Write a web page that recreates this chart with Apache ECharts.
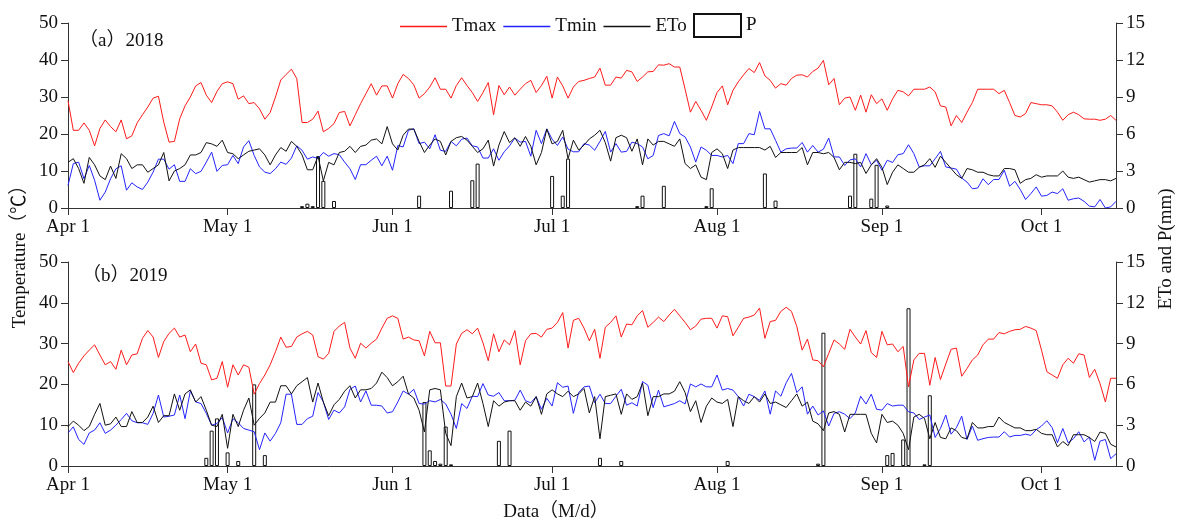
<!DOCTYPE html>
<html><head><meta charset="utf-8">
<script src="https://cdn.jsdelivr.net/npm/echarts@6/dist/echarts.min.js"></script>
<style>html,body{margin:0;padding:0;background:#fff}#c{width:1177px;height:522px}</style>
</head><body><div id="c"></div>
<script>
// ---- x categories (daily, Apr 1 .. Oct 15) ----
const monthNames = ['Apr','May','Jun','Jul','Aug','Sep','Oct'];
const monthDays = [30,31,30,31,31,30,15];
const dates = [];
monthNames.forEach((m,i)=>{ for(let d=1; d<=monthDays[i]; d++) dates.push(m+' '+d); });

// ---- 2018 ----
const tmax2018 = [29,21,21,23,21,16.8,21.5,23.8,22,20.6,23.8,18.7,19.5,23,25.2,27.3,29.7,30.2,23.2,17.8,18,24.1,27.6,30,33,33.9,30.5,28.5,31.5,33.6,34.1,33.6,29.4,30.3,28.2,28.5,26.8,24,25.8,30,34.6,36.1,37.5,35,23.1,23.1,24,26.2,20.6,21.5,
22.8,25.8,26.1,22.2,25.2,28.2,30.9,33.6,30.5,33,33,29.7,33.6,36.1,35,33.3,29.7,30.9,32.7,35.2,32.1,32.1,29.7,33.1,35.2,33.1,31.2,28.8,31.2,33.9,25.2,33.1,30.6,32.7,30.5,32.1,33.6,34.5,31.2,33.1,35.6,29.7,35.4,33,29.7,32.7,34.2,34.5,35.0,
35.4,37.8,33.2,33.2,35.4,35.1,37.2,36.8,34.2,35.4,36.8,36.9,38.7,38.6,39.0,38.1,38.1,32.1,25.9,28.8,26.4,23.7,27.3,31.2,33.0,27.9,31.8,34.1,36.0,37.7,36.6,39.3,35.7,34.5,32.4,33.6,33.2,35.0,35.9,36.0,35.4,36.9,37.8,39.9,33.3,35.0,27.9,29.7,30.0,
26.4,30.5,25.9,30.6,28.2,29.5,26.4,29.5,31.8,31.4,30.3,32.1,32.1,32.1,32.7,31.4,27.6,27.3,22.2,25.0,23.1,25.9,28.5,32.1,32.1,32.1,32.1,30.9,31.8,28.5,25.0,24.6,25.5,28.5,28.2,27.9,27.9,27.6,25.9,23.7,25.2,25.9,25.2,24.1,24.0,24.0,23.7,24.0,25.0,23.7];
const tmin2018 = [6.1,12,12.4,7.9,11.5,7.5,2.1,4.3,7.9,10.6,11.4,4.8,6.8,5.7,5,7,9.7,13.2,13.2,10.5,11.7,7.2,7.2,10.6,9.3,9.9,12.4,15.1,9.9,11.5,11.7,14.2,12,16.5,18.2,14.2,11.1,9.7,9.3,10.6,12.4,11.8,13.5,16.8,15.6,13.2,13.8,13.4,15,14,
14.7,14.4,12.4,10.6,7.7,11.7,11.7,12.9,14,11.4,14,10.2,16.9,16.5,21,21.4,17.4,17.8,16,19.8,15.6,15.3,18,16.8,18.6,18.9,16.8,16.5,13.5,13.5,16,12.9,15.2,16.8,18.9,17.8,18,14,21,17.4,21.4,18.6,16.9,19.2,15.9,15.2,15.2,17.4,17.0,
15.6,18.0,20.7,15.1,17.4,15.1,15.3,17.8,17.4,16.5,13.3,14.2,19.6,20.1,19.5,23.4,20.1,19.2,16.5,12.4,16.5,15.6,14.2,14.2,13.8,14.2,12.0,17.4,17.4,20.1,19.8,26.1,21.4,21.4,18.3,15.1,16.0,16.2,16.2,17.7,15.1,16.9,15.1,15.9,18.9,13.8,13.8,11.5,13.0,
13.3,11.1,14.7,11.7,12.9,10.2,12.9,12.3,14.4,14.7,17.1,14.7,11.1,11.4,11.4,13.3,15.3,11.1,10.8,10.5,8.1,7.0,5.2,5.4,7.9,6.3,7.7,7.7,10.2,5.9,7.2,5.0,2.3,3.9,5.7,3.2,3.4,4.3,3.9,5.2,2.1,2.5,2.7,1.8,0.5,0.3,2.3,0,0.3,1.8];
const eto2018 = [3.7,4.0,3.2,2.0,4.1,3.5,2.6,2.3,3.4,2.4,4.4,4.0,3.2,3.5,3.5,2.9,3.2,3.5,4.5,2.2,3.0,3.2,3.5,4.3,4.3,4.5,5.3,5.2,5.0,5.5,4.5,4.4,4.0,4.3,4.6,4.7,4.8,4.3,3.5,4.3,4.9,4.6,5.4,5.0,4.3,3.1,3.1,4.2,2.2,3.7,
3.5,4.5,4.6,5.0,4.5,5.0,5.1,5.5,5.6,5.2,6.6,5.2,4.7,5.9,6.4,6.4,5.4,4.5,5.1,5.6,5.4,4.3,5.4,5.7,5.8,5.5,5.0,4.5,4.8,5.5,3.4,5.1,6.2,5.3,5.7,5.0,5.8,5.0,3.5,4.5,6.4,5.2,5.4,6.3,4.0,5.5,4.7,5.1,5.6,
5.9,6.3,5.3,3.8,5.7,5.9,5.7,4.6,5.6,3.5,5.6,5.1,5.4,5.4,5.2,5.0,5.6,3.6,3.2,3.5,2.5,2.3,4.5,4.8,4.4,3.2,4.7,4.9,4.9,4.9,4.9,4.9,4.7,5.0,4.1,4.5,4.5,4.5,4.5,4.9,3.5,4.5,4.5,4.4,4.5,4.1,3.1,3.7,3.7,
3.6,3.7,2.8,3.5,4.0,3.3,1.9,2.9,3.5,3.2,2.9,2.9,3.3,3.5,4.0,3.3,4.2,3.7,3.2,2.7,2.4,3.2,3.1,2.9,2.9,2.7,2.6,2.6,3.2,3.2,3.1,2.0,2.3,2.4,2.7,2.5,2.6,2.6,2.6,3.0,2.5,2.4,2.5,2.3,2.1,2.2,2.3,2.3,2.2,2.4];
const pDay2018 = [44,45,46,47,48,50,66,72,76,77,91,93,94,107,108,112,120,121,131,133,147,148,151,152,154];
const pVal2018 = [0.15,0.35,0.15,4.2,2.2,0.57,1.0,1.4,2.25,3.6,2.6,1.0,4.0,0.15,1.0,1.8,0.15,1.6,2.8,0.6,1.0,4.4,0.76,3.5,0.2];

// ---- 2019 ----
const tmax2019 = [25.6,22.9,25.2,27.0,28.4,29.7,27.2,24.8,25.6,23.7,28.4,24.8,27.2,27.5,31.3,33.2,31.6,26.6,30.5,32.5,33.8,31.6,32.1,28.0,29.9,25.2,24.8,21.1,21.5,25.6,19.3,24.8,22.3,24.8,24.2,17.6,20.2,22.3,24.8,28.0,31.6,29.1,29.3,31.6,32.4,33.0,32.1,26.8,26.2,27.6,
33.0,34.3,35.2,28.9,26.4,30.1,28.9,30.1,31.1,33.8,36.2,36.8,36.2,31.1,31.6,30.9,30.7,27.0,33.0,30.2,30.2,19.6,19.6,29.9,32.5,33.4,32.4,33.8,30.2,25.8,32.4,28.0,30.9,29.7,33.2,24.8,30.7,32.4,32.5,31.6,33.5,33.8,35.2,37.6,28.9,35.7,36.2,33.8,30.7,
33.5,26.4,34.0,35.2,36.8,31.6,34.8,34.6,36.8,38.1,34.0,35.2,36.5,35.4,37.0,38.4,36.8,35.2,33.4,34.3,36.0,36.2,36.2,33.8,36.8,36.6,31.9,34.0,36.2,36.5,37.0,38.7,31.3,35.4,35.7,37.9,38.9,37.9,34.2,28.4,31.1,26.0,25.8,24.3,27.6,30.9,29.9,28.6,33.5,
31.6,29.9,33.2,27.8,26.6,33.0,29.7,29.9,28.0,29.3,19.4,26.0,27.6,27.6,19.8,26.6,21.2,25.0,28.6,28.9,22.0,23.9,26.0,27.2,29.7,31.1,31.1,32.7,32.4,33.0,33.4,33.5,34.2,33.8,33.2,28.4,23.1,22.3,21.5,24.8,26.4,25.2,27.5,27.2,21.7,23.7,20.2,15.7,21.5,21.5];
const tmin2019 = [8.1,9.6,6.5,5.3,8.1,8.8,10.6,8.0,8.8,10.0,11.4,12.9,11.1,10.6,10.6,10.2,12.9,17.4,12.0,12.2,12.5,17.4,11.6,18.4,15.7,15.3,12.9,10.0,10.4,11.9,8.1,11.6,10.6,9.2,8.8,8.4,4.0,8.1,6.1,8.0,10.6,17.6,17.6,10.2,10.2,11.6,12.2,18.0,15.7,11.4,
13.7,13.0,14.5,18.8,19.6,15.7,18.4,14.9,14.9,14.7,13.0,13.3,15.7,18.4,17.6,18.8,15.3,15.2,16.0,15.7,16.3,15.2,12.7,9.2,15.3,14.1,17.1,17.0,20.2,17.4,17.1,18.0,16.0,16.0,16.1,18.6,16.0,15.5,17.0,13.9,16.6,14.7,20.4,19.3,19.6,12.9,18.0,19.4,19.6,
15.5,17.6,15.3,15.3,17.1,18.8,14.9,15.5,14.7,20.7,19.8,14.3,18.6,14.5,14.9,15.3,16.0,15.2,20.1,19.4,20.1,19.4,19.4,22.3,18.6,19.0,18.6,17.0,14.7,17.6,17.0,16.1,18.4,12.7,18.4,17.1,20.4,22.7,18.0,19.4,12.7,14.7,12.5,13.5,9.8,12.9,13.3,12.7,11.6,
13.0,17.1,15.2,17.6,13.9,13.7,15.3,14.7,14.9,14.9,13.3,13.0,11.4,12.0,12.5,7.0,9.2,12.5,7.8,9.4,12.2,6.5,9.8,6.3,6.7,7.0,7.1,7.1,8.4,7.1,7.5,7.5,7.8,7.5,8.9,9.8,11.1,9.4,5.7,9.2,5.7,6.7,8.4,5.9,7.1,1.4,6.1,6.5,1.8,3.0];
const eto2019 = [2.9,3.3,3.0,2.6,2.9,3.8,4.6,3.0,3.1,3.6,2.9,2.9,4.0,3.2,3.2,3.6,4.4,3.2,3.7,3.7,5.3,4.1,5.3,5.6,4.7,5.1,4.1,3.0,2.9,3.8,1.3,3.8,2.9,4.1,5.0,3.0,3.5,3.9,4.7,4.7,5.9,5.9,5.3,5.9,6.2,6.5,4.7,6.1,4.7,3.7,
4.5,4.9,5.5,5.9,5.0,5.6,5.6,5.7,6.1,6.9,6.5,5.9,6.2,6.6,5.3,5.0,4.1,2.5,5.6,5.7,5.6,2.4,1.5,5.1,6.1,5.0,5.1,6.1,4.6,2.9,4.8,4.4,4.7,4.8,4.8,4.1,4.7,4.4,5.1,3.8,5.3,5.6,5.3,5.1,5.5,5.1,5.3,5.7,3.9,
5.1,2.0,5.1,5.2,5.3,3.8,5.3,4.9,5.1,6.1,3.7,5.1,5.1,5.3,5.3,5.5,6.2,5.4,4.0,4.8,3.2,4.4,5.0,4.7,4.6,4.9,2.9,5.1,4.8,4.6,5.1,4.7,5.3,4.6,4.7,4.5,4.3,4.8,5.3,4.4,4.7,3.3,3.1,2.6,3.9,4.0,3.8,2.5,3.8,
3.8,3.8,3.8,2.4,1.7,3.8,3.2,3.3,3.0,2.4,1.2,3.6,3.8,3.5,2.0,3.2,2.1,2.0,2.8,2.6,2.1,2.0,3.2,2.8,2.8,2.9,2.9,3.6,3.2,3.0,2.8,2.8,2.6,2.6,2.7,2.4,2.3,2.3,1.4,1.8,1.5,2.3,2.3,2.3,2.1,1.8,2.5,2.4,1.6,1.4];
const pDay2019 = [26,27,28,30,32,35,37,67,68,69,70,71,72,81,83,100,104,124,141,142,154,155,157,158,161,162];
const pVal2019 = [0.6,2.6,3.5,1.0,0.37,6.0,0.8,4.7,1.15,0.37,0.17,2.9,0.12,1.85,2.6,0.6,0.37,0.37,0.17,9.8,0.8,0.96,1.95,11.6,0.12,5.2];

const tempTicks = [0,10,20,30,40,50];
const mmTicks = [0,3,6,9,12,15];

const FONT = '"Liberation Serif","Noto Sans CJK SC",serif';
const FS = 19;

function fullP(days, vals){ const a = dates.map(()=>null); days.forEach((d,i)=>{a[d]=vals[i];}); return a; }
const isMonthStart = (i, v) => v.split(' ')[1] === '1';

function xAx(gi){
  return {type:'category', gridIndex:gi, data:dates, boundaryGap:false,
    axisLine:{lineStyle:{color:'#333', width:1}},
    axisTick:{interval:isMonthStart, length:7, lineStyle:{color:'#333'}},
    axisLabel:{interval:isMonthStart, color:'#111', fontFamily:FONT, fontSize:FS, margin:10},
    splitLine:{show:false}};
}
function yAx(gi, right){
  const t = right ? mmTicks : tempTicks;
  return {type:'value', gridIndex:gi, position: right?'right':'left',
    min:t[0], max:t[t.length-1], interval:t[1]-t[0],
    axisLine:{show:true, lineStyle:{color:'#333', width:1}},
    axisTick:{show:true, length:7, lineStyle:{color:'#333'}},
    axisLabel:{color:'#111', fontFamily:FONT, fontSize:FS, margin:10},
    splitLine:{show:false}};
}
function panelSeries(gi, tmax, tmin, eto, pd, pv){
  return [
    {name:'P', type:'bar', xAxisIndex:gi, yAxisIndex:gi*2+1, data:fullP(pd,pv), barWidth:4,
     itemStyle:{color:'#fff', borderColor:'#111', borderWidth:1}, z:1},
    {name:'Tmax', type:'line', xAxisIndex:gi, yAxisIndex:gi*2, data:tmax, symbol:'none',
     lineStyle:{color:'#ff1a1a', width:1}, itemStyle:{color:'#ff1a1a'}, z:3},
    {name:'Tmin', type:'line', xAxisIndex:gi, yAxisIndex:gi*2, data:tmin, symbol:'none',
     lineStyle:{color:'#2323ff', width:1}, itemStyle:{color:'#2323ff'}, z:3},
    {name:'ETo', type:'line', xAxisIndex:gi, yAxisIndex:gi*2+1, data:eto, symbol:'none',
     lineStyle:{color:'#111', width:1}, itemStyle:{color:'#111'}, z:4}
  ];
}

const chart = echarts.init(document.getElementById('c'), null, {renderer:'canvas'});
chart.setOption({
  animation:false,
  backgroundColor:'#fff',
  grid:[{left:68, right:61, top:23, height:185}, {left:68, right:61, top:262, height:204}],
  xAxis:[xAx(0), xAx(1)],
  yAxis:[yAx(0,false), yAx(0,true), yAx(1,false), yAx(1,true)],
  legend:[
    {data:[{name:'Tmax',icon:'rect'},{name:'Tmin',icon:'rect'},{name:'ETo',icon:'rect'}],
     left:400, top:17, padding:0, itemWidth:47, itemHeight:1.5, itemGap:7,
     textStyle:{fontFamily:FONT, fontSize:FS, color:'#111'}},
    {data:[{name:'P', icon:'rect'}], left:693, top:13, padding:0, itemWidth:47, itemHeight:23,
     textStyle:{fontFamily:FONT, fontSize:FS, color:'#111'}}
  ],
  graphic:[
    {type:'text', x:79, y:41, style:{text:'（a）2018', font:FS+'px '+FONT, fill:'#111', textAlign:'left', textVerticalAlign:'middle'}},
    {type:'text', x:82, y:276, style:{text:'（b）2019', font:FS+'px '+FONT, fill:'#111', textAlign:'left', textVerticalAlign:'middle'}},
    {type:'text', x:20, y:252, rotation:Math.PI/2, style:{text:'Temperature（℃）', font:FS+'px '+FONT, fill:'#111', textAlign:'center', textVerticalAlign:'middle'}},
    {type:'text', x:1166, y:249, rotation:Math.PI/2, style:{text:'ETo and P(mm)', font:FS+'px '+FONT, fill:'#111', textAlign:'center', textVerticalAlign:'middle'}},
    {type:'text', x:556, y:512, style:{text:'Data（M/d）', font:FS+'px '+FONT, fill:'#111', textAlign:'center', textVerticalAlign:'middle'}}
  ],
  series:[].concat(
    panelSeries(0, tmax2018, tmin2018, eto2018, pDay2018, pVal2018),
    panelSeries(1, tmax2019, tmin2019, eto2019, pDay2019, pVal2019)
  )
});
</script></body></html>
